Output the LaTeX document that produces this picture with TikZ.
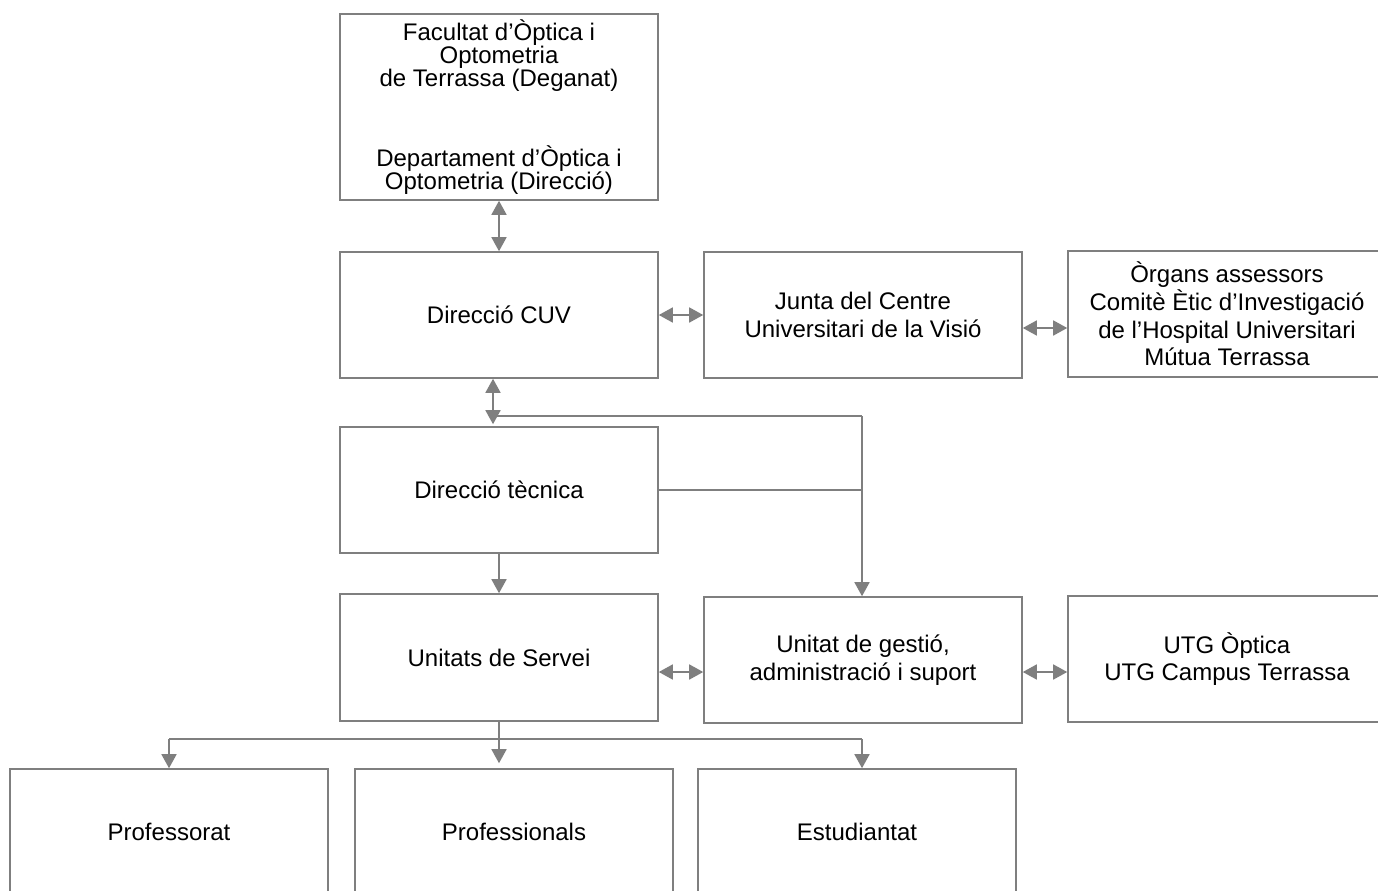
\documentclass[tikz,border=0pt]{standalone}
\usepackage{fontspec}
\setmainfont{Liberation Sans}
\usetikzlibrary{arrows.meta}
\definecolor{linegray}{HTML}{7F7F7F}
\begin{document}
\begin{tikzpicture}[x=1pt,y=-1pt,
  box/.style={draw=linegray,line width=1.6pt,minimum width=318pt,minimum height=126pt,
    align=center,inner sep=0pt,font=\fontsize{24pt}{27.6pt}\selectfont},
  conn/.style={draw=linegray,line width=1.6pt},
  tipshape/.style={},
  dbl/.style={conn,{Triangle[length=14pt,width=15pt]}-{Triangle[length=14pt,width=15pt]}},
  one/.style={conn,-{Triangle[length=14pt,width=15pt]}}]
\useasboundingbox (0,0) rectangle (1378,891);
\clip (0,0) rectangle (1378,891);
\fill[white] (0,0) rectangle (1378,891);
% boxes
\node[box,minimum height=186pt,font=\fontsize{24pt}{23pt}\selectfont] (top) at (499,107)
  {Facultat d’Òptica i\\Optometria\\de Terrassa (Deganat)\\[53pt]Departament d’Òptica i\\Optometria (Direcció)};
\node[box] (cuv) at (499,315) {Direcció CUV};
\node[box] (junta) at (863,315) {Junta del Centre\\Universitari de la Visió};
\node[box] (organs) at (1227,314) {Òrgans assessors\\Comitè Ètic d’Investigació\\de l’Hospital Universitari\\Mútua Terrassa};
\node[box] (tec) at (499,490) {Direcció tècnica};
\node[box,minimum height=127pt] (unit) at (499,657.5) {Unitats de Servei};
\node[box] (gest) at (863,660) {Unitat de gestió,\\administració i suport};
\node[box] (utg) at (1227,659) {UTG Òptica\\UTG Campus Terrassa};
\node[box] (prof) at (169,832) {Professorat};
\node[box] (profs) at (514,832) {Professionals};
\node[box] (est) at (857,832) {Estudiantat};
% helper coordinates
\coordinate (y328) at (0,328);
\coordinate (y672) at (0,672);
\coordinate (j1) at (493,416);
\coordinate (j2) at (862,416);
\coordinate (j3) at (862,490);
\coordinate (b0) at (499,739);
\coordinate (bl) at (169,739);
\coordinate (br) at (862,739);
% connectors
\draw[dbl] (top.south) -- (cuv.north);
\draw[dbl] (cuv.east) -- (junta.west);
\draw[dbl] (junta.east |- y328) -- (organs.west |- y328);
\draw[dbl,shorten >=2pt] (cuv.south -| j1) -- (tec.north -| j1);
\draw[conn] (j1) -- (j2);
\draw[one] (j2) -- (gest.north -| j2);
\draw[conn] (tec.east) -- (j3);
\draw[one] (tec.south) -- (unit.north);
\draw[dbl] (unit.east |- y672) -- (gest.west |- y672);
\draw[dbl] (gest.east |- y672) -- (utg.west |- y672);
\draw[conn] (unit.south) -- (b0);
\draw[conn] (bl) -- (br);
\draw[one] (bl) -- (prof.north -| bl);
\draw[one,shorten >=5pt] (b0) -- (profs.north -| b0);
\draw[one] (br) -- (est.north -| br);
\end{tikzpicture}
\end{document}
